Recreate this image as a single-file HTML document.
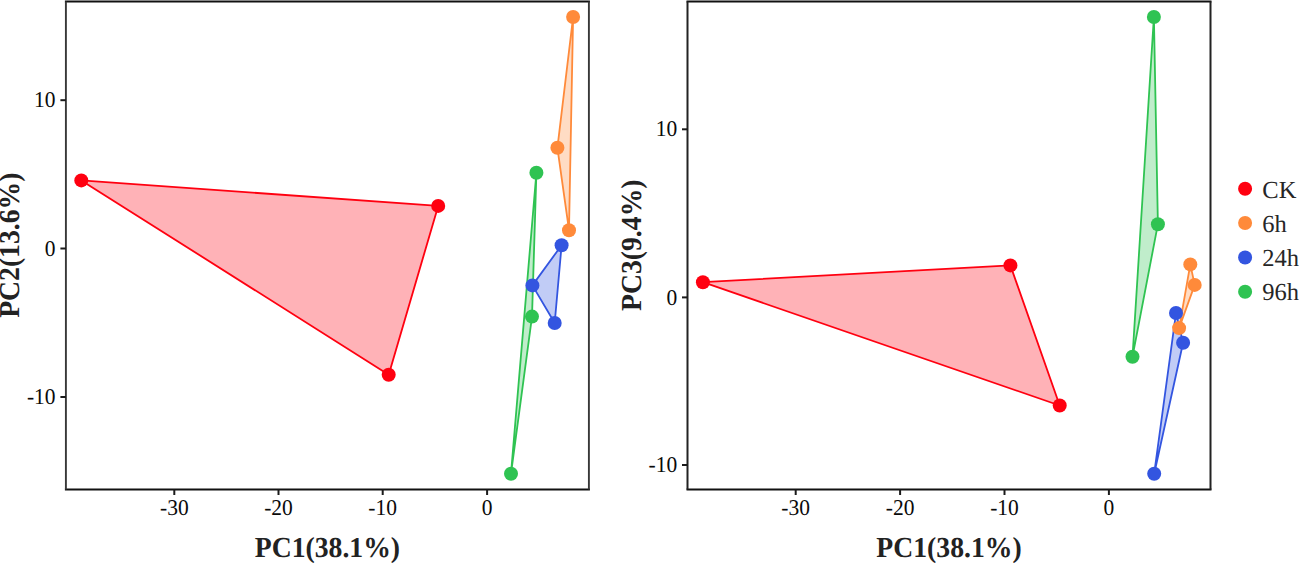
<!DOCTYPE html>
<html><head><meta charset="utf-8"><style>
html,body{margin:0;padding:0;background:#fff;width:1299px;height:563px;overflow:hidden}
svg{display:block;text-rendering:geometricPrecision}
.tk{font-family:"Liberation Serif",serif;font-size:21.5px;fill:#0a0a0a}
.ti{font-family:"Liberation Serif",serif;font-size:27.7px;font-weight:bold;fill:#222}
.lg{font-family:"Liberation Serif",serif;font-size:24.5px;fill:#262626}
</style></head><body>
<svg width="1299" height="563" viewBox="0 0 1299 563">
<polygon points="81.3,180.4 438.2,205.9 388.7,374.7" fill="rgba(255,0,16,0.3)" stroke="#FF0010" stroke-width="1.8" stroke-linejoin="round"/>
<polygon points="573.1,17.0 557.4,147.8 569.0,230.2" fill="rgba(255,138,58,0.3)" stroke="#FF8A3A" stroke-width="1.8" stroke-linejoin="round"/>
<polygon points="561.6,245.2 532.4,285.4 554.7,323.0" fill="rgba(51,85,224,0.3)" stroke="#3355E0" stroke-width="1.8" stroke-linejoin="round"/>
<polygon points="536.4,172.8 532.0,316.6 511.0,473.7" fill="rgba(47,195,82,0.3)" stroke="#2FC352" stroke-width="1.8" stroke-linejoin="round"/>
<circle cx="81.3" cy="180.4" r="7.0" fill="#FF0010"/>
<circle cx="573.1" cy="17.0" r="7.0" fill="#FF8A3A"/>
<circle cx="561.6" cy="245.2" r="7.0" fill="#3355E0"/>
<circle cx="536.4" cy="172.8" r="7.0" fill="#2FC352"/>
<circle cx="438.2" cy="205.9" r="7.0" fill="#FF0010"/>
<circle cx="557.4" cy="147.8" r="7.0" fill="#FF8A3A"/>
<circle cx="532.4" cy="285.4" r="7.0" fill="#3355E0"/>
<circle cx="532.0" cy="316.6" r="7.0" fill="#2FC352"/>
<circle cx="388.7" cy="374.7" r="7.0" fill="#FF0010"/>
<circle cx="569.0" cy="230.2" r="7.0" fill="#FF8A3A"/>
<circle cx="554.7" cy="323.0" r="7.0" fill="#3355E0"/>
<circle cx="511.0" cy="473.7" r="7.0" fill="#2FC352"/>
<path d="M64.90 1.40H589.90M64.90 489.50H589.90" stroke="#111" stroke-width="2" fill="none"/>
<path d="M65.90 1.40V489.50M588.90 1.40V489.50" stroke="#383838" stroke-width="1.9" fill="none"/>
<line x1="60.4" x2="65.9" y1="100.2" y2="100.2" stroke="#1a1a1a" stroke-width="2"/>
<text transform="translate(55.60,107.35) scale(1,1.05)" text-anchor="end" class="tk">10</text>
<line x1="60.4" x2="65.9" y1="248.5" y2="248.5" stroke="#1a1a1a" stroke-width="2"/>
<text transform="translate(55.60,255.60) scale(1,1.05)" text-anchor="end" class="tk">0</text>
<line x1="60.4" x2="65.9" y1="397.0" y2="397.0" stroke="#1a1a1a" stroke-width="2"/>
<text transform="translate(55.60,404.10) scale(1,1.05)" text-anchor="end" class="tk">-10</text>
<line x1="174.3" x2="174.3" y1="489.5" y2="495.0" stroke="#1a1a1a" stroke-width="2"/>
<text transform="translate(174.30,514.50) scale(1,1.05)" text-anchor="middle" class="tk">-30</text>
<line x1="278.5" x2="278.5" y1="489.5" y2="495.0" stroke="#1a1a1a" stroke-width="2"/>
<text transform="translate(278.50,514.50) scale(1,1.05)" text-anchor="middle" class="tk">-20</text>
<line x1="382.7" x2="382.7" y1="489.5" y2="495.0" stroke="#1a1a1a" stroke-width="2"/>
<text transform="translate(382.70,514.50) scale(1,1.05)" text-anchor="middle" class="tk">-10</text>
<line x1="487.1" x2="487.1" y1="489.5" y2="495.0" stroke="#1a1a1a" stroke-width="2"/>
<text transform="translate(487.10,514.50) scale(1,1.05)" text-anchor="middle" class="tk">0</text>
<text transform="translate(327.40,557.2) scale(1,1.045)" text-anchor="middle" class="ti">PC1(38.1%)</text>
<text transform="translate(19.20,245.2) rotate(-90) scale(1,1.045)" text-anchor="middle" class="ti">PC2(13.6%)</text>
<polygon points="702.9,282.2 1010.4,265.4 1059.7,405.5" fill="rgba(255,0,16,0.3)" stroke="#FF0010" stroke-width="1.8" stroke-linejoin="round"/>
<polygon points="1190.3,264.4 1194.7,284.9 1179.1,328.1" fill="rgba(255,138,58,0.3)" stroke="#FF8A3A" stroke-width="1.8" stroke-linejoin="round"/>
<polygon points="1176.0,313.0 1183.1,342.7 1154.2,473.7" fill="rgba(51,85,224,0.3)" stroke="#3355E0" stroke-width="1.8" stroke-linejoin="round"/>
<polygon points="1153.9,17.0 1157.9,224.2 1132.5,356.7" fill="rgba(47,195,82,0.3)" stroke="#2FC352" stroke-width="1.8" stroke-linejoin="round"/>
<circle cx="702.9" cy="282.2" r="7.0" fill="#FF0010"/>
<circle cx="1190.3" cy="264.4" r="7.0" fill="#FF8A3A"/>
<circle cx="1176.0" cy="313.0" r="7.0" fill="#3355E0"/>
<circle cx="1153.9" cy="17.0" r="7.0" fill="#2FC352"/>
<circle cx="1010.4" cy="265.4" r="7.0" fill="#FF0010"/>
<circle cx="1194.7" cy="284.9" r="7.0" fill="#FF8A3A"/>
<circle cx="1183.1" cy="342.7" r="7.0" fill="#3355E0"/>
<circle cx="1157.9" cy="224.2" r="7.0" fill="#2FC352"/>
<circle cx="1059.7" cy="405.5" r="7.0" fill="#FF0010"/>
<circle cx="1179.1" cy="328.1" r="7.0" fill="#FF8A3A"/>
<circle cx="1154.2" cy="473.7" r="7.0" fill="#3355E0"/>
<circle cx="1132.5" cy="356.7" r="7.0" fill="#2FC352"/>
<path d="M686.50 1.40H1211.50M686.50 489.50H1211.50" stroke="#111" stroke-width="2" fill="none"/>
<path d="M687.50 1.40V489.50M1210.50 1.40V489.50" stroke="#222" stroke-width="2" fill="none"/>
<line x1="682.0" x2="687.5" y1="129.3" y2="129.3" stroke="#1a1a1a" stroke-width="2"/>
<text transform="translate(677.20,136.40) scale(1,1.05)" text-anchor="end" class="tk">10</text>
<line x1="682.0" x2="687.5" y1="297.4" y2="297.4" stroke="#1a1a1a" stroke-width="2"/>
<text transform="translate(677.20,304.50) scale(1,1.05)" text-anchor="end" class="tk">0</text>
<line x1="682.0" x2="687.5" y1="465.0" y2="465.0" stroke="#1a1a1a" stroke-width="2"/>
<text transform="translate(677.20,472.10) scale(1,1.05)" text-anchor="end" class="tk">-10</text>
<line x1="795.7" x2="795.7" y1="489.5" y2="495.0" stroke="#1a1a1a" stroke-width="2"/>
<text transform="translate(795.70,514.50) scale(1,1.05)" text-anchor="middle" class="tk">-30</text>
<line x1="900.1" x2="900.1" y1="489.5" y2="495.0" stroke="#1a1a1a" stroke-width="2"/>
<text transform="translate(900.10,514.50) scale(1,1.05)" text-anchor="middle" class="tk">-20</text>
<line x1="1004.5" x2="1004.5" y1="489.5" y2="495.0" stroke="#1a1a1a" stroke-width="2"/>
<text transform="translate(1004.50,514.50) scale(1,1.05)" text-anchor="middle" class="tk">-10</text>
<line x1="1108.9" x2="1108.9" y1="489.5" y2="495.0" stroke="#1a1a1a" stroke-width="2"/>
<text transform="translate(1108.90,514.50) scale(1,1.05)" text-anchor="middle" class="tk">0</text>
<text transform="translate(949.00,557.2) scale(1,1.045)" text-anchor="middle" class="ti">PC1(38.1%)</text>
<text transform="translate(640.80,245.2) rotate(-90) scale(1,1.045)" text-anchor="middle" class="ti">PC3(9.4%)</text>
<circle cx="1245.1" cy="188.8" r="7.0" fill="#FF0010"/>
<text x="1262.3" y="197.5" class="lg">CK</text>
<circle cx="1245.1" cy="223.0" r="7.0" fill="#FF8A3A"/>
<text x="1262.3" y="231.7" class="lg">6h</text>
<circle cx="1245.1" cy="257.5" r="7.0" fill="#3355E0"/>
<text x="1262.3" y="266.2" class="lg">24h</text>
<circle cx="1245.1" cy="291.7" r="7.0" fill="#2FC352"/>
<text x="1262.3" y="300.4" class="lg">96h</text>
</svg>
</body></html>
